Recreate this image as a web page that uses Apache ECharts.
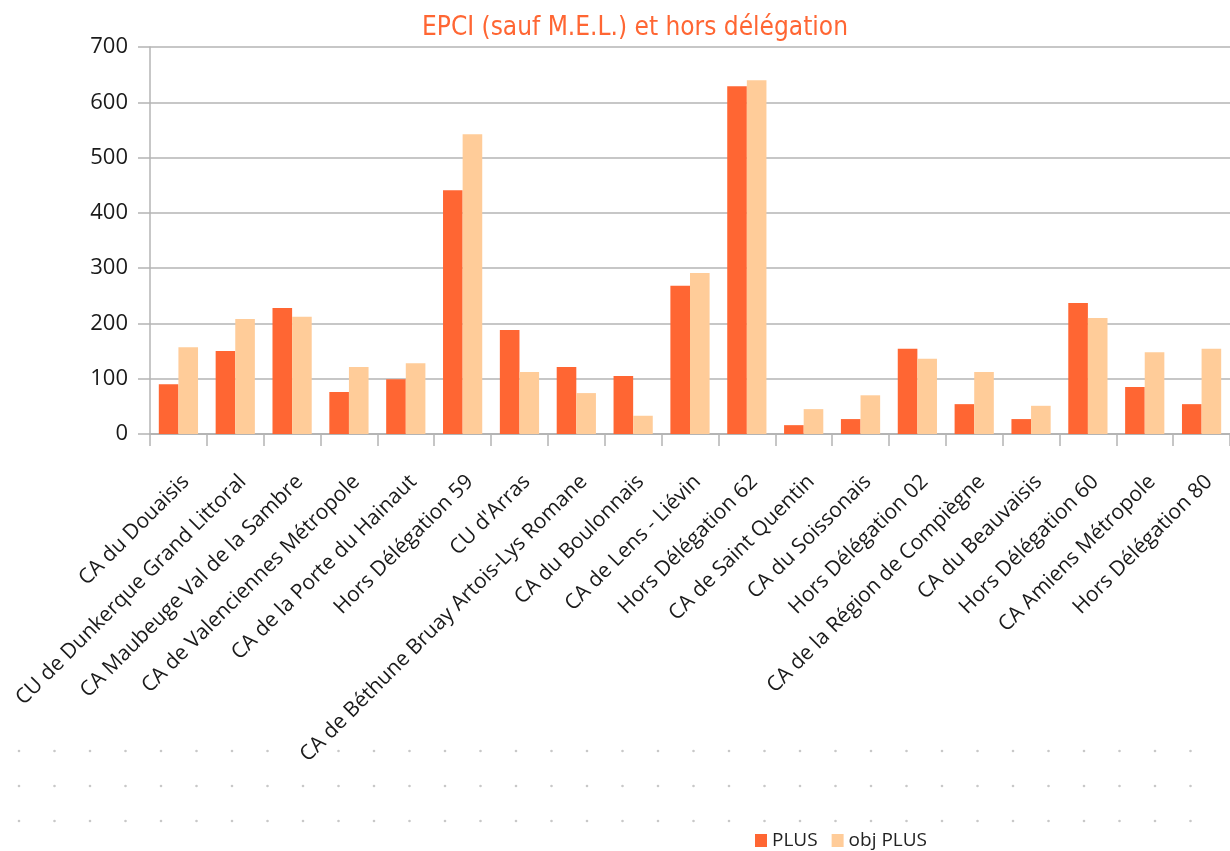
<!DOCTYPE html>
<html>
<head>
<meta charset="utf-8">
<script src="https://cdn.jsdelivr.net/npm/echarts@6/dist/echarts.min.js"></script>
<style>
    html, body{ margin: 0; padding: 0; background: #fff;}
    #chart{ width: 1230px; height: 851px;}
</style>
</head>
<body>
<div id="chart"></div>
<script>
    // categories (EPCI)
    var categories = [
        'CA du Douaisis', 'CU de Dunkerque Grand Littoral', 'CA Maubeuge Val de la Sambre',
        'CA de Valenciennes Métropole', 'CA de la Porte du Hainaut', 'Hors Délégation 59',
        "CU d'Arras", 'CA de Béthune Bruay Artois-Lys Romane', 'CA du Boulonnais',
        'CA de Lens - Liévin', 'Hors Délégation 62', 'CA de Saint Quentin',
        'CA du Soissonais', 'Hors Délégation 02', 'CA de la Région de Compiègne',
        'CA du Beauvaisis', 'Hors Délégation 60', 'CA Amiens Métropole', 'Hors Délégation 80'
    ];
    var plus    = [90, 150, 228, 76, 99, 441, 188, 121, 105, 268, 629, 16, 27, 154, 54, 27, 237, 85, 54];
    var objPlus = [157, 208, 212, 121, 128, 542, 112, 74, 33, 291, 640, 45, 70, 136, 112, 51, 210, 148, 154];
    var yTicks = [0, 100, 200, 300, 400, 500, 600, 700];

    var font = '"Open Sans", sans-serif';
    var grey = '#b4b4b4';

    // faint dotted pattern under the chart
    var dots = [];
    for (var r = 0; r < 3; r++) {
        for (var c = 0; c < 34; c++) {
            dots.push({
                type: 'circle',
                shape: { cx: 19 + c * 35.5, cy: [751, 786, 821][r], r: 1.3 },
                style: { fill: '#c8c8c8' },
                silent: true
            });
        }
    }

    var chart = echarts.init(document.getElementById('chart'));
    chart.setOption({
        animation: false,
        title: {
            text: 'EPCI (sauf M.E.L.) et hors délégation',
            left: 417, top: 10,
            textStyle: { color: '#FF6633', fontSize: 26, fontWeight: 'normal',
                fontFamily: '"Liberation Sans Narrow", "DejaVu Sans Condensed", "Open Sans", sans-serif' }
        },
        legend: {
            data: ['PLUS', 'obj PLUS'],
            left: 750, top: 826,
            icon: 'rect', itemWidth: 12, itemHeight: 13, itemGap: 14,
            textStyle: { color: '#222', fontSize: 19, fontFamily: font }
        },
        graphic: dots,
        grid: { left: 150, top: 47, bottom: 417, right: -9 },
        xAxis: {
            type: 'category',
            data: categories,
            axisLine: { lineStyle: { color: grey, width: 2 } },
            axisTick: { show: true, length: 12, lineStyle: { color: grey, width: 1.5 } },
            axisLabel: { rotate: 45, interval: 0, margin: 37, verticalAlign: 'top',
                color: '#1a1a1a', fontSize: 21, fontFamily: font }
        },
        yAxis: {
            type: 'value',
            min: yTicks[0], max: yTicks[yTicks.length - 1], interval: 100,
            axisLine: { show: true, lineStyle: { color: grey, width: 1.5 } },
            axisTick: { show: true, length: 12, lineStyle: { color: grey, width: 1.5 } },
            splitLine: { lineStyle: { color: grey, width: 1.5 } },
            axisLabel: { margin: 22, padding: [8, 0, 0, 0], color: '#1a1a1a', fontSize: 22, fontFamily: font }
        },
        series: [
            { name: 'PLUS', type: 'bar', data: plus, itemStyle: { color: '#FF6633' }, barGap: '0%', barCategoryGap: '31%' },
            { name: 'obj PLUS', type: 'bar', data: objPlus, itemStyle: { color: '#FFCC99' } }
        ]
    });
</script>
</body>
</html>
